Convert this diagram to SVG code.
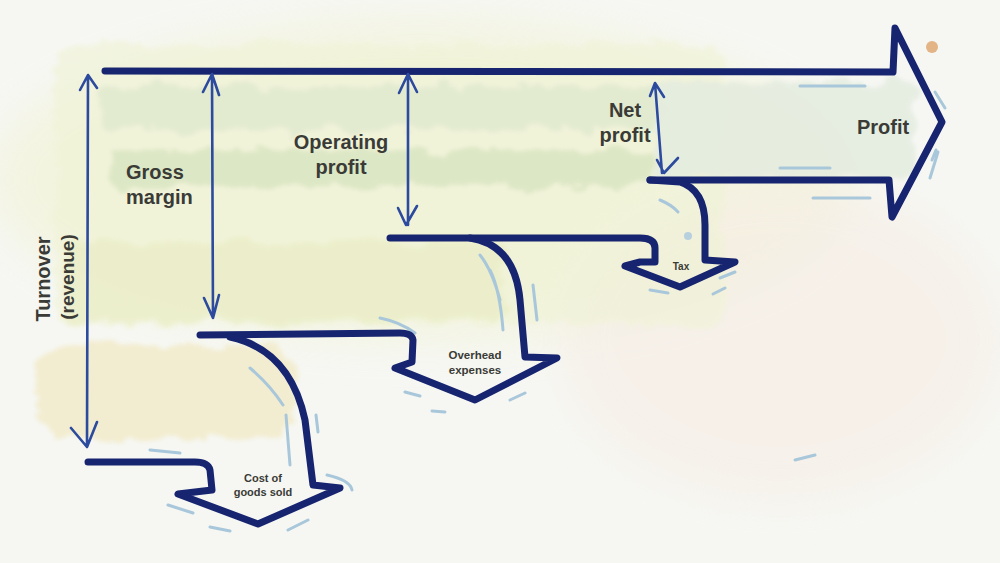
<svg xmlns="http://www.w3.org/2000/svg" width="1000" height="563" viewBox="0 0 1000 563">
<defs>
<filter id="rough" x="-10%" y="-30%" width="120%" height="160%">
<feTurbulence type="fractalNoise" baseFrequency="0.035 0.06" numOctaves="4" seed="7"/>
<feDisplacementMap in="SourceGraphic" scale="22" xChannelSelector="R" yChannelSelector="G"/>
<feGaussianBlur stdDeviation="2.2"/>
</filter>
<filter id="soft" x="-30%" y="-30%" width="160%" height="160%">
<feGaussianBlur stdDeviation="22"/>
</filter>
</defs>
<style>
.ink{fill:none;stroke:#17246f;stroke-width:7;stroke-linecap:round;stroke-linejoin:round}
.thin{fill:none;stroke:#2c4a9e;stroke-width:2.6;stroke-linecap:round;stroke-linejoin:round}
.acc{fill:none;stroke:#a9c7da;stroke-width:3;stroke-linecap:round}
.lbl{font-family:"Liberation Sans",Arial,sans-serif;font-weight:bold;fill:#3a3b36}
.big{font-size:20px}
.sm{font-size:11.5px}
</style>
<rect width="1000" height="563" fill="#f6f7f3"/>
<g id="washes">
<ellipse cx="420" cy="180" rx="430" ry="160" fill="#f2f3d8" filter="url(#soft)" opacity="0.7"/>
<ellipse cx="780" cy="340" rx="220" ry="160" fill="#f6ede4" filter="url(#soft)" opacity="0.6"/>
<rect x="55" y="45" width="670" height="280" rx="20" fill="#f0f3d6" filter="url(#rough)" opacity="0.6"/>
<rect x="100" y="86" width="560" height="44" rx="8" fill="#e0e9cf" filter="url(#rough)" opacity="0.85"/>
<rect x="655" y="82" width="260" height="96" rx="8" fill="#e4ecdf" filter="url(#rough)" opacity="0.85"/>
<rect x="110" y="150" width="545" height="36" rx="8" fill="#d9e5c2" filter="url(#rough)" opacity="0.85"/>
<rect x="65" y="242" width="440" height="80" rx="12" fill="#ebeec8" filter="url(#rough)" opacity="0.8"/>
<rect x="35" y="345" width="260" height="95" rx="35" fill="#f2ebcb" filter="url(#rough)" opacity="0.85"/>
<circle cx="932" cy="47" r="6" fill="#e3b485"/>
<circle cx="688" cy="236" r="4" fill="#b6d0de"/>
</g>
<g id="accents">
<path class="acc" d="M800,86 L865,86"/>
<path class="acc" d="M780,168 L830,168"/>
<path class="acc" d="M813,198 L870,198"/>
<path class="acc" d="M935,92 L945,108"/>
<path class="acc" d="M936,150 L932,160 M938,152 L930,178"/>
<path class="acc" d="M660,200 Q672,205 678,212"/>
<path class="acc" d="M720,278 L735,272 M713,294 L725,288 M650,290 L668,293"/>
<path class="acc" d="M480,255 Q492,270 500,300 M490,270 Q500,290 503,330 M533,285 L537,320"/>
<path class="acc" d="M380,318 Q400,322 415,333 M405,392 L420,396 M432,411 L445,412 M510,400 L525,393"/>
<path class="acc" d="M250,368 Q270,385 283,405 M286,415 L290,465 M316,415 L318,432"/>
<path class="acc" d="M150,450 L180,453 M327,475 Q350,480 352,490 M168,505 L193,513 M210,527 L230,531 M288,530 L308,520"/>
<path class="acc" d="M795,460 L815,455"/>
</g>
<g id="connectors">
<g id="main-arrow"><path class="ink" d="M105,71 L893,72 L895,28 L942,122 L892,217 L889,180 L650,180"/></g>
<g id="tax-arrow"><path class="ink" d="M650,180 L680,182 Q705,190 705,225 L705,260 L735,262 L680,287 L625,266 L640,262 L655,262 L655,248 Q655,238 640,238 L390,238"/></g>
<g id="overhead-arrow"><path class="ink" d="M470,238 Q515,245 520,300 L525,357 L557,358 L475,400 L395,368 L412,362 L413,340 Q412,333 400,333 L200,335"/></g>
<g id="cogs-arrow"><path class="ink" d="M230,337 Q290,350 305,420 L313,485 L340,488 L258,524 L178,494 L212,490 L210,470 Q208,462 195,462 L88,462"/></g>
<g id="dim-turnover"><path class="thin" d="M88,75 L87,447 M80,90 L88,75 L97,88 M71,428 L87,447 L97,422"/></g>
<g id="dim-gross"><path class="thin" d="M212,74 L213,318 M203,92 L212,74 L219,95 M204,298 L213,318 L219,295"/></g>
<g id="dim-operating"><path class="thin" d="M408,74 L408,225 M399,93 L408,74 L417,92 M398,208 L406,225 L417,206"/></g>
<g id="dim-net"><path class="thin" d="M655,83 L662,173 M650,96 L655,83 L664,97 M657,160 L664,173 L678,158"/></g>
</g>
<g id="node-turnover"><text class="lbl big" transform="translate(50,279) rotate(-90)" text-anchor="middle">Turnover</text><text class="lbl" font-size="19" transform="translate(74,277) rotate(-90)" text-anchor="middle" font-weight="normal">(revenue)</text></g>
<g id="node-gross"><text class="lbl big" x="126" y="179">Gross</text><text class="lbl big" x="126" y="204">margin</text></g>
<g id="node-operating"><text class="lbl big" x="341" y="149" text-anchor="middle">Operating</text><text class="lbl big" x="341" y="174" text-anchor="middle">profit</text></g>
<g id="node-net"><text class="lbl big" x="625" y="117" text-anchor="middle">Net</text><text class="lbl big" x="625" y="142" text-anchor="middle">profit</text></g>
<g id="node-profit"><text class="lbl big" x="883" y="134" text-anchor="middle">Profit</text></g>
<g id="node-tax"><text class="lbl" font-size="10" x="681" y="270" text-anchor="middle">Tax</text></g>
<g id="node-overhead"><text class="lbl sm" x="475" y="359" text-anchor="middle">Overhead</text><text class="lbl sm" x="475" y="374" text-anchor="middle">expenses</text></g>
<g id="node-cogs"><text class="lbl" font-size="11" x="263" y="482" text-anchor="middle">Cost of</text><text class="lbl" font-size="11" x="263" y="496" text-anchor="middle">goods sold</text></g>
</svg>
